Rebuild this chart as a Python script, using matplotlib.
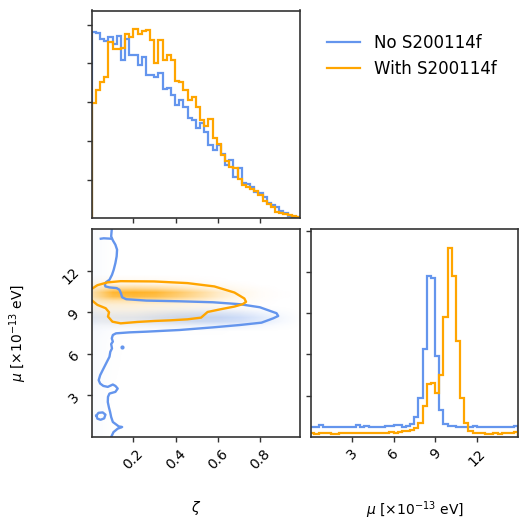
import numpy as np
import matplotlib
matplotlib.use("Agg")
import matplotlib.pyplot as plt
from matplotlib.colors import LinearSegmentedColormap
from matplotlib.lines import Line2D
from matplotlib.image import NonUniformImage

# ---------------- data ----------------
labels = ["No S200114f", "With S200114f"]
zeta_lim = (0.003, 0.988)
mu_lim = (0.0, 15.0)

# 1D marginal of zeta (50 bins)
zeta_no = [4.82, 4.79, 4.64, 4.59, 4.68, 4.51, 4.70, 4.08, 4.64, 4.21,
           4.21, 3.95, 4.16, 3.69, 3.69, 3.65, 3.75, 3.35, 3.37, 3.18,
           2.92, 3.05, 2.88, 2.60, 2.55, 2.32, 2.45, 2.23, 1.89, 1.76,
           1.89, 1.66, 1.37, 1.50, 1.07, 1.29, 0.90, 0.88, 0.80, 0.69,
           0.66, 0.54, 0.39, 0.34, 0.30, 0.19, 0.13, 0.07, 0.04, 0.03]
zeta_with = [2.97, 3.31, 3.51, 3.66, 4.56, 4.37, 4.38, 4.40, 4.75, 4.68,
             4.88, 4.76, 4.83, 4.87, 4.61, 4.02, 4.61, 4.09, 4.21, 4.08,
             3.54, 3.51, 3.31, 3.06, 3.13, 2.88, 2.53, 2.38, 2.56, 2.08,
             1.93, 1.63, 1.47, 1.33, 1.29, 1.02, 0.86, 0.81, 0.75, 0.70,
             0.61, 0.44, 0.37, 0.29, 0.17, 0.13, 0.11, 0.09, 0.06, 0.04]

# 1D marginal of mu (50 bins over 0..15)
mu_no = [0.24, 0.24, 0.28, 0.24, 0.23, 0.24, 0.23, 0.23, 0.23, 0.23,
         0.24, 0.28, 0.24, 0.26, 0.24, 0.23, 0.24, 0.24, 0.26, 0.26,
         0.28, 0.28, 0.24, 0.25, 0.31, 0.48, 0.95, 2.12, 3.90, 3.85,
         1.97, 0.65, 0.32, 0.26, 0.27, 0.24, 0.24, 0.23, 0.24, 0.27,
         0.24, 0.23, 0.24, 0.24, 0.23, 0.24, 0.23, 0.24, 0.23, 0.26]
mu_with = [0.10, 0.07, 0.10, 0.10, 0.10, 0.07, 0.07, 0.10, 0.10, 0.10,
           0.10, 0.10, 0.10, 0.10, 0.10, 0.10, 0.10, 0.10, 0.10, 0.12,
           0.10, 0.12, 0.13, 0.13, 0.16, 0.20, 0.33, 0.74, 1.28, 1.30,
           1.07, 1.51, 2.91, 4.59, 3.91, 2.33, 0.93, 0.33, 0.14, 0.10,
           0.10, 0.10, 0.07, 0.07, 0.10, 0.07, 0.10, 0.10, 0.10, 0.12]

# 2D density (relative shading strength) on a coarse grid
dens_zeta = [0.0, 0.05, 0.1, 0.2, 0.3, 0.4, 0.5, 0.6, 0.7, 0.8, 0.9, 0.99]
dens_mu = [0.0, 7.0, 7.6, 8.0, 8.3, 8.6, 8.9, 9.2, 9.5, 9.8, 10.1, 10.4,
           10.7, 11.0, 11.3, 11.7, 15.0]
dens_no = [
    [0.04, 0.02, 0.00, 0.00, 0.00, 0.00, 0.00, 0.00, 0.00, 0.00, 0.00, 0.00],
    [0.05, 0.03, 0.01, 0.00, 0.00, 0.00, 0.00, 0.00, 0.00, 0.00, 0.00, 0.00],
    [0.06, 0.04, 0.02, 0.01, 0.01, 0.01, 0.01, 0.01, 0.00, 0.00, 0.00, 0.00],
    [0.10, 0.08, 0.08, 0.08, 0.10, 0.12, 0.12, 0.12, 0.10, 0.06, 0.02, 0.00],
    [0.18, 0.15, 0.15, 0.17, 0.22, 0.28, 0.32, 0.32, 0.28, 0.18, 0.06, 0.00],
    [0.22, 0.18, 0.18, 0.20, 0.26, 0.33, 0.38, 0.38, 0.32, 0.20, 0.07, 0.00],
    [0.18, 0.14, 0.12, 0.13, 0.17, 0.22, 0.25, 0.25, 0.20, 0.12, 0.04, 0.00],
    [0.10, 0.07, 0.05, 0.05, 0.06, 0.07, 0.08, 0.08, 0.06, 0.03, 0.01, 0.00],
    [0.06, 0.03, 0.02, 0.01, 0.01, 0.01, 0.01, 0.01, 0.00, 0.00, 0.00, 0.00],
    [0.05, 0.02, 0.00, 0.00, 0.00, 0.00, 0.00, 0.00, 0.00, 0.00, 0.00, 0.00],
    [0.05, 0.02, 0.00, 0.00, 0.00, 0.00, 0.00, 0.00, 0.00, 0.00, 0.00, 0.00],
    [0.05, 0.02, 0.00, 0.00, 0.00, 0.00, 0.00, 0.00, 0.00, 0.00, 0.00, 0.00],
    [0.05, 0.02, 0.00, 0.00, 0.00, 0.00, 0.00, 0.00, 0.00, 0.00, 0.00, 0.00],
    [0.05, 0.02, 0.00, 0.00, 0.00, 0.00, 0.00, 0.00, 0.00, 0.00, 0.00, 0.00],
    [0.05, 0.02, 0.00, 0.00, 0.00, 0.00, 0.00, 0.00, 0.00, 0.00, 0.00, 0.00],
    [0.04, 0.02, 0.00, 0.00, 0.00, 0.00, 0.00, 0.00, 0.00, 0.00, 0.00, 0.00],
    [0.04, 0.02, 0.00, 0.00, 0.00, 0.00, 0.00, 0.00, 0.00, 0.00, 0.00, 0.00],
]
dens_with = [
    [0.00, 0.00, 0.00, 0.00, 0.00, 0.00, 0.00, 0.00, 0.00, 0.00, 0.00, 0.00],
    [0.00, 0.00, 0.00, 0.00, 0.00, 0.00, 0.00, 0.00, 0.00, 0.00, 0.00, 0.00],
    [0.00, 0.00, 0.00, 0.00, 0.00, 0.00, 0.00, 0.00, 0.00, 0.00, 0.00, 0.00],
    [0.01, 0.02, 0.02, 0.02, 0.02, 0.02, 0.01, 0.01, 0.00, 0.00, 0.00, 0.00],
    [0.03, 0.05, 0.06, 0.06, 0.06, 0.05, 0.04, 0.02, 0.01, 0.00, 0.00, 0.00],
    [0.05, 0.07, 0.08, 0.08, 0.08, 0.07, 0.05, 0.03, 0.01, 0.00, 0.00, 0.00],
    [0.06, 0.08, 0.09, 0.09, 0.09, 0.08, 0.06, 0.03, 0.02, 0.00, 0.00, 0.00],
    [0.08, 0.10, 0.11, 0.11, 0.10, 0.09, 0.07, 0.04, 0.02, 0.01, 0.00, 0.00],
    [0.12, 0.15, 0.16, 0.16, 0.15, 0.13, 0.10, 0.06, 0.03, 0.01, 0.00, 0.00],
    [0.20, 0.28, 0.32, 0.32, 0.30, 0.25, 0.18, 0.10, 0.05, 0.02, 0.00, 0.00],
    [0.30, 0.50, 0.70, 0.75, 0.70, 0.55, 0.38, 0.20, 0.08, 0.03, 0.01, 0.00],
    [0.32, 0.55, 0.80, 0.85, 0.80, 0.62, 0.42, 0.22, 0.09, 0.03, 0.01, 0.00],
    [0.22, 0.30, 0.40, 0.42, 0.38, 0.30, 0.20, 0.10, 0.05, 0.02, 0.00, 0.00],
    [0.08, 0.12, 0.14, 0.14, 0.12, 0.10, 0.07, 0.04, 0.02, 0.00, 0.00, 0.00],
    [0.03, 0.04, 0.05, 0.05, 0.04, 0.03, 0.02, 0.01, 0.00, 0.00, 0.00, 0.00],
    [0.00, 0.00, 0.00, 0.00, 0.00, 0.00, 0.00, 0.00, 0.00, 0.00, 0.00, 0.00],
    [0.00, 0.00, 0.00, 0.00, 0.00, 0.00, 0.00, 0.00, 0.00, 0.00, 0.00, 0.00],
]

# contour lines (zeta, mu)
cont_no_zeta = [0.098, 0.095, 0.103, 0.115, 0.123, 0.121, 0.115, 0.107, 0.099, 0.087,
                0.071, 0.065, 0.068, 0.087, 0.121, 0.134, 0.142, 0.147, 0.166, 0.261,
                0.418, 0.576, 0.703, 0.798, 0.877, 0.885, 0.861, 0.806, 0.703, 0.576,
                0.418, 0.261, 0.181, 0.118, 0.103, 0.098, 0.103, 0.095, 0.099, 0.091,
                0.087, 0.071, 0.055, 0.043, 0.036, 0.043, 0.058, 0.079, 0.103, 0.115,
                0.126, 0.115, 0.087, 0.080, 0.079, 0.084, 0.090, 0.095, 0.103, 0.131,
                0.147, 0.126, 0.106, 0.095]
cont_no_mu = [15.0, 14.47, 14.18, 13.87, 13.51, 13.03, 12.54, 12.06, 11.70, 11.34,
              11.17, 10.98, 10.86, 10.79, 10.74, 10.62, 10.33, 10.08, 9.94, 9.84,
              9.79, 9.72, 9.58, 9.36, 8.93, 8.73, 8.56, 8.25, 8.08, 7.91,
              7.72, 7.60, 7.55, 7.48, 7.36, 7.12, 6.88, 6.71, 6.39, 6.15,
              5.79, 5.31, 4.83, 4.46, 4.10, 3.86, 3.69, 3.62, 3.79, 3.69,
              3.50, 3.26, 3.14, 2.90, 2.53, 2.17, 1.81, 1.45, 1.09, 0.77,
              0.73, 0.61, 0.36, 0.0]
spur_no_zeta = [0.046, 0.060, 0.094]
spur_no_mu = [14.30, 14.33, 14.30]
loop_no_zeta = [0.025, 0.035, 0.055, 0.068, 0.062, 0.045, 0.030, 0.025]
loop_no_mu = [1.55, 1.75, 1.78, 1.62, 1.35, 1.25, 1.33, 1.55]
dot_no = (0.147, 6.47)

cont_with_zeta = [0.001, 0.030, 0.077, 0.140, 0.298, 0.456, 0.583, 0.678, 0.725, 0.733,
                  0.717, 0.678, 0.614, 0.551, 0.520, 0.456, 0.377, 0.298, 0.219, 0.140,
                  0.101, 0.080, 0.085, 0.069, 0.030, 0.001]
cont_with_mu = [10.66, 10.95, 11.15, 11.24, 11.22, 11.10, 10.86, 10.42, 9.99, 9.75,
                9.58, 9.41, 9.22, 9.02, 8.61, 8.49, 8.42, 8.37, 8.30, 8.20,
                8.32, 8.69, 9.00, 9.29, 9.53, 9.89]

# ---------------- drawing ----------------
BLUE = "#6495ED"
ORANGE = "#FFA500"
W = 529.0

fig = plt.figure(figsize=(5.29, 5.29), dpi=100)


def ax_at(x0, y0, x1, y1):
    return fig.add_axes([x0 / W, 1 - y1 / W, (x1 - x0) / W, (y1 - y0) / W])


ax_top = ax_at(91.7, 10.5, 300.0, 218.3)
ax_2d = ax_at(91.7, 229.0, 300.0, 436.7)
ax_r = ax_at(311.0, 229.0, 518.3, 436.7)

for ax in (ax_top, ax_2d, ax_r):
    for s in ax.spines.values():
        s.set_linewidth(1.2)
        s.set_color("#333333")
    ax.tick_params(labelsize=10, length=3.5, width=1.0, color="#333333")

zeta_edges = np.linspace(zeta_lim[0], zeta_lim[1], len(zeta_no) + 1)
mu_edges = np.linspace(mu_lim[0], mu_lim[1], len(mu_no) + 1)

# top: zeta marginal
ax_top.stairs(zeta_no, zeta_edges, color=BLUE, lw=1.6)
ax_top.stairs(zeta_with, zeta_edges, color=ORANGE, lw=1.6)
ax_top.set_xlim(*zeta_lim)
ax_top.set_ylim(0, 1.1 * max(max(zeta_no), max(zeta_with)))
ax_top.set_xticks([0.2, 0.4, 0.6, 0.8])
ax_top.set_yticks([1, 2, 3, 4, 5])
ax_top.set_xticklabels([])
ax_top.set_yticklabels([])

# right: mu marginal
ax_r.stairs(mu_no, mu_edges, color=BLUE, lw=1.6)
ax_r.stairs(mu_with, mu_edges, color=ORANGE, lw=1.6)
ax_r.set_xlim(0.05, mu_lim[1])
ax_r.set_ylim(0, 1.1 * max(max(mu_no), max(mu_with)))
ax_r.set_xticks([3, 6, 9, 12])
ax_r.set_yticks([1, 2, 3, 4, 5])
ax_r.set_yticklabels([])
for t in ax_r.get_xticklabels():
    t.set_rotation(45)
ax_r.set_xlabel(r"$\mu$ [$\times10^{-13}$ eV]", fontsize=10)
ax_r.xaxis.set_label_coords(0.5, -0.3)


# 2D panel
def alpha_cmap(c):
    rgb = matplotlib.colors.to_rgb(c)
    return LinearSegmentedColormap.from_list("a", [rgb + (0.0,), rgb + (1.0,)])


for dens, col in ((dens_no, BLUE), (dens_with, ORANGE)):
    im = NonUniformImage(ax_2d, interpolation="bilinear",
                         extent=(zeta_lim[0], zeta_lim[1], mu_lim[0], mu_lim[1]),
                         cmap=alpha_cmap(col))
    im.set_data(np.array(dens_zeta), np.array(dens_mu), np.array(dens))
    im.set_clim(0, 1)
    ax_2d.add_image(im)

ax_2d.plot(cont_no_zeta, cont_no_mu, color=BLUE, lw=1.7)
ax_2d.plot(spur_no_zeta, spur_no_mu, color=BLUE, lw=1.7)
ax_2d.plot(loop_no_zeta, loop_no_mu, color=BLUE, lw=1.7)
ax_2d.plot([dot_no[0]], [dot_no[1]], "o", color=BLUE, ms=2)
ax_2d.plot(cont_with_zeta, cont_with_mu, color=ORANGE, lw=1.7)

ax_2d.set_xlim(*zeta_lim)
ax_2d.set_ylim(0.03, mu_lim[1])
ax_2d.set_xticks([0.2, 0.4, 0.6, 0.8])
ax_2d.set_yticks([3, 6, 9, 12])
for t in ax_2d.get_xticklabels() + ax_2d.get_yticklabels():
    t.set_rotation(45)
ax_2d.set_xlabel(r"$\zeta$", fontsize=10)
ax_2d.set_ylabel(r"$\mu$ [$\times10^{-13}$ eV]", fontsize=10)
ax_2d.xaxis.set_label_coords(0.5, -0.3)
ax_2d.yaxis.set_label_coords(-0.3, 0.5)

handles = [Line2D([], [], color=BLUE, lw=1.6), Line2D([], [], color=ORANGE, lw=1.6)]
fig.legend(handles, labels, loc="upper left", bbox_to_anchor=(312 / W, 1 - 19 / W),
           frameon=False, fontsize=12)

fig.savefig("out.png", dpi=100)
